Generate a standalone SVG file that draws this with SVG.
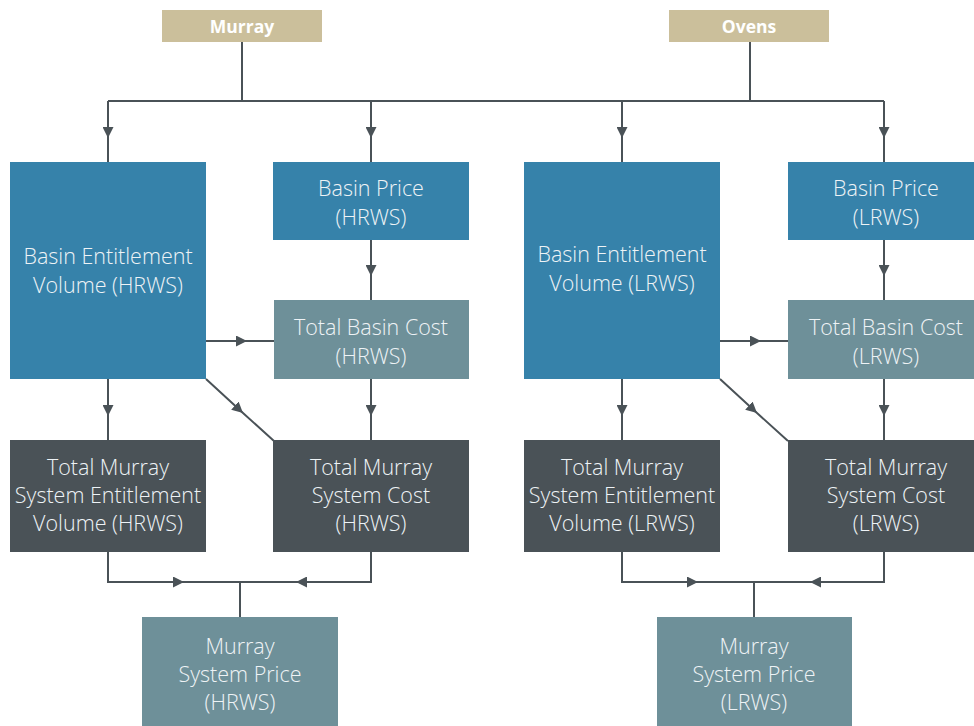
<svg xmlns="http://www.w3.org/2000/svg" width="974" height="726" viewBox="0 0 974 726">
<style>
.blue{fill:#3682AA}
.teal{fill:#6E9099}
.dark{fill:#4A5257}
.tan{fill:#CBBF9B}
.t{font-family:"Open Sans","Noto Sans","Liberation Sans",sans-serif;font-size:21.5px;font-weight:300;fill:#EEF3F6;text-anchor:middle;dominant-baseline:central}
.h{font-family:"Open Sans","Noto Sans","Liberation Sans",sans-serif;font-size:17.5px;font-weight:700;fill:#FFFFFF;text-anchor:middle;dominant-baseline:central}
.c{fill:none;stroke:#4A5257;stroke-width:2}
</style>
<defs>
<marker id="arr" viewBox="0 0 10 10" refX="10" refY="5" markerWidth="11" markerHeight="11" markerUnits="userSpaceOnUse" orient="auto">
<path d="M0,0 L10,5 L0,10 z" fill="#4A5257"/>
</marker>
</defs>
<rect width="974" height="726" fill="#FFFFFF"/>
<g id="connectors">
<path class="c" d="M242 42 V101 M108 101 H884 M750 42 V101"/>
<path class="c" marker-mid="url(#arr)" d="M108 101 L108 138 L108 162"/>
<path class="c" marker-mid="url(#arr)" d="M371 101 L371 138 L371 162"/>
<path class="c" marker-mid="url(#arr)" d="M622 101 L622 138 L622 162"/>
<path class="c" marker-mid="url(#arr)" d="M884 101 L884 138 L884 162"/>
<path class="c" marker-mid="url(#arr)" d="M371 240 L371 276 L371 300"/>
<path class="c" marker-mid="url(#arr)" d="M884 240 L884 276 L884 300"/>
<path class="c" marker-mid="url(#arr)" d="M206 341 L247 341 L274 341"/>
<path class="c" marker-mid="url(#arr)" d="M720 341 L761 341 L788 341"/>
<path class="c" marker-mid="url(#arr)" d="M206 379 L243 413 L274 441"/>
<path class="c" marker-mid="url(#arr)" d="M720 379 L757 413 L788 441"/>
<path class="c" marker-mid="url(#arr)" d="M108 379 L108 416 L108 440"/>
<path class="c" marker-mid="url(#arr)" d="M371 379 L371 416 L371 440"/>
<path class="c" marker-mid="url(#arr)" d="M622 379 L622 416 L622 440"/>
<path class="c" marker-mid="url(#arr)" d="M884 379 L884 416 L884 440"/>
<path class="c" d="M108 552 V582 M371 552 V582 M622 552 V582 M884 552 V582"/>
<path class="c" marker-mid="url(#arr)" d="M107 582 L184 582 L240 582"/>
<path class="c" marker-mid="url(#arr)" d="M372 582 L296 582 L240 582"/>
<path class="c" d="M240 582 V617"/>
<path class="c" marker-mid="url(#arr)" d="M621 582 L698 582 L754 582"/>
<path class="c" marker-mid="url(#arr)" d="M885 582 L810 582 L754 582"/>
<path class="c" d="M754 582 V617"/>
</g>
<g id="murray"><rect class="tan" x="162" y="10" width="160" height="32"/><text class="h" x="242" y="26">Murray</text></g>
<g id="ovens"><rect class="tan" x="669" y="10" width="160" height="32"/><text class="h" x="749" y="26">Ovens</text></g>
<g id="bev-hrws"><rect class="blue" x="10" y="162" width="196" height="217"/><text class="t" x="108" y="255">Basin Entitlement</text><text class="t" x="108" y="284">Volume (HRWS)</text></g>
<g id="bp-hrws"><rect class="blue" x="273" y="162" width="196" height="78"/><text class="t" x="371" y="187">Basin Price</text><text class="t" x="371" y="216">(HRWS)</text></g>
<g id="tbc-hrws"><rect class="teal" x="274" y="300" width="195" height="79"/><text class="t" x="371" y="326">Total Basin Cost</text><text class="t" x="371" y="355">(HRWS)</text></g>
<g id="tmsev-hrws"><rect class="dark" x="10" y="440" width="196" height="112"/><text class="t" x="108" y="466">Total Murray</text><text class="t" x="108" y="494">System Entitlement</text><text class="t" x="108" y="522">Volume (HRWS)</text></g>
<g id="tmsc-hrws"><rect class="dark" x="273" y="440" width="196" height="112"/><text class="t" x="371" y="466">Total Murray</text><text class="t" x="371" y="494">System Cost</text><text class="t" x="371" y="522">(HRWS)</text></g>
<g id="msp-hrws"><rect class="teal" x="142" y="617" width="196" height="112"/><text class="t" x="240" y="645">Murray</text><text class="t" x="240" y="673">System Price</text><text class="t" x="240" y="701">(HRWS)</text></g>
<g id="bev-lrws"><rect class="blue" x="524" y="162" width="196" height="217"/><text class="t" x="622" y="253">Basin Entitlement</text><text class="t" x="622" y="282">Volume (LRWS)</text></g>
<g id="bp-lrws"><rect class="blue" x="788" y="162" width="196" height="78"/><text class="t" x="886" y="187">Basin Price</text><text class="t" x="886" y="216">(LRWS)</text></g>
<g id="tbc-lrws"><rect class="teal" x="788" y="300" width="196" height="79"/><text class="t" x="886" y="326">Total Basin Cost</text><text class="t" x="886" y="355">(LRWS)</text></g>
<g id="tmsev-lrws"><rect class="dark" x="524" y="440" width="196" height="112"/><text class="t" x="622" y="466">Total Murray</text><text class="t" x="622" y="494">System Entitlement</text><text class="t" x="622" y="522">Volume (LRWS)</text></g>
<g id="tmsc-lrws"><rect class="dark" x="788" y="440" width="196" height="112"/><text class="t" x="886" y="466">Total Murray</text><text class="t" x="886" y="494">System Cost</text><text class="t" x="886" y="522">(LRWS)</text></g>
<g id="msp-lrws"><rect class="teal" x="657" y="617" width="195" height="112"/><text class="t" x="754" y="645">Murray</text><text class="t" x="754" y="673">System Price</text><text class="t" x="754" y="701">(LRWS)</text></g>
</svg>
